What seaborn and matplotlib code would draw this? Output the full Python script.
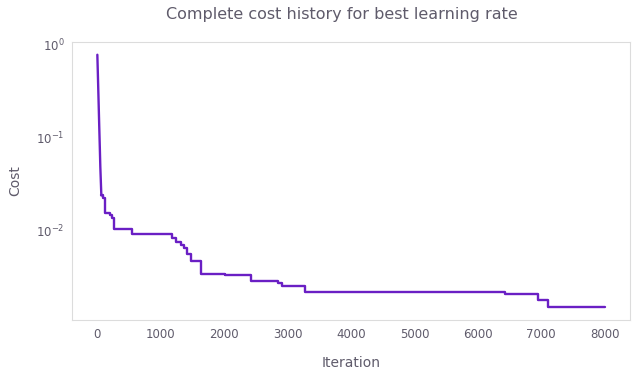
import numpy as np
import pandas as pd
import matplotlib
matplotlib.use("Agg")
import matplotlib.pyplot as plt
import seaborn as sns

# Steep initial descent (drawn as a plain line)
early_iterations = [0, 10, 20, 30, 40, 47, 63]
early_costs = [0.77, 0.43, 0.237, 0.13, 0.073, 0.048, 0.0237]

# Best-cost plateaus afterwards (cost holds until the next iteration)
step_iterations = [63, 88, 115, 118, 205, 237, 262, 552, 1183, 1246, 1325, 1366,
                   1420, 1483, 1640, 2019, 2418, 2849, 2912, 3281, 6435, 6950,
                   7107, 8000]
step_costs = [0.0237, 0.0221, 0.0194, 0.0153, 0.0147, 0.0135, 0.0104, 0.00904,
              0.00833, 0.00748, 0.00689, 0.00645, 0.00561, 0.00464, 0.00343,
              0.00329, 0.00283, 0.00272, 0.00252, 0.00218, 0.00209, 0.00177,
              0.00149, 0.00149]

early = pd.DataFrame({"Iteration": early_iterations, "Cost": early_costs})
steps = pd.DataFrame({"Iteration": step_iterations, "Cost": step_costs})

sns.set_style("white")
text_col = "#5f5b6b"
grid_col = "#dcdcdc"
line_col = "#6a1fc4"
plt.rcParams["font.family"] = ["DejaVu Sans"]

fig = plt.figure(figsize=(6.37, 3.76), dpi=100)
ax = fig.add_axes([0.113, 0.149, 0.876, 0.739])

sns.lineplot(data=early, x="Iteration", y="Cost", ax=ax, color=line_col,
             linewidth=1.7)
sns.lineplot(data=steps, x="Iteration", y="Cost", ax=ax, color=line_col,
             linewidth=1.7, drawstyle="steps-post")
ax.set_yscale("log")

fig.text(341.5 / 637, 1 - 14 / 376, "Complete cost history for best learning rate",
         fontsize=11.5, color=text_col, ha="center", va="center")
ax.set_xlabel("Iteration", fontsize=10, color=text_col, labelpad=11)
ax.set_ylabel("Cost", fontsize=10, color=text_col, labelpad=10)

for s in ax.spines.values():
    s.set_color(grid_col)
    s.set_linewidth(0.8)
ax.tick_params(axis="both", which="both", colors="#aaaaaa", labelcolor=text_col,
               labelsize=8.5, direction="out", pad=2.5)
ax.tick_params(axis="both", which="major", length=3, width=0.8)
ax.tick_params(axis="y", which="minor", length=2, width=0.6)
ax.set_xticks([0, 1000, 2000, 3000, 4000, 5000, 6000, 7000, 8000])

fig.savefig("out.png", dpi=100)
